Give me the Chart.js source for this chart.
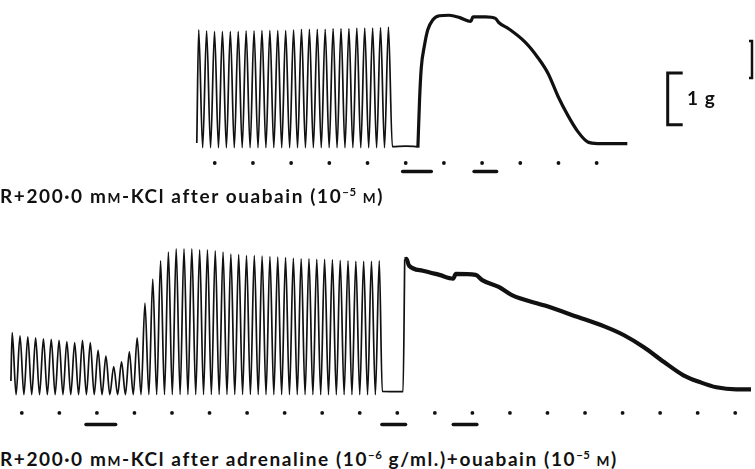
<!DOCTYPE html>
<html>
<head>
<meta charset="utf-8">
<script src="https://cdn.jsdelivr.net/npm/chart.js@4.4.1/dist/chart.umd.min.js"></script>
<style>
  html, body { margin: 0; padding: 0; background: #fff; }
  body { width: 755px; height: 469px; position: relative; overflow: hidden;
         font-family: Lato, "Open Sans", sans-serif; color: #111; }
  canvas { position: absolute; left: 0; }
  #topChart { top: 0; }
  #bottomChart { top: 220px; }
  .caption { position: absolute; left: 0; font-size: 19px; line-height: 19px; letter-spacing: 1.6px;
             font-weight: bold; white-space: nowrap; }
  .sc { font-size: 0.72em; }
  sup { font-size: 0.6em; line-height: 0; vertical-align: 0.65em; letter-spacing: 0.5px; }
  #gLabel { position: absolute; left: 687px; top: 88px; font-size: 19px; line-height: 19px;
            letter-spacing: 1px; font-weight: bold; }
</style>
</head>
<body>
<canvas id="topChart" width="755" height="190"></canvas>
<canvas id="bottomChart" width="755" height="220"></canvas>
<div class="caption" style="top:186px">R+200·0 m<span class="sc">M</span>-KCl after ouabain (10<sup>−5</sup> <span class="sc">M</span>)</div>
<div class="caption" style="top:449px">R+200·0 m<span class="sc">M</span>-KCl after adrenaline (10<sup>−6</sup> g/ml.)+ouabain (10<sup>−5</sup> <span class="sc">M</span>)</div>
<div id="gLabel">1 g</div>

<script>
// time in minutes (one dot = one mark on the time trace), force in g above resting level

// --- top record: after ouabain ---
const topBeatStart = -0.42;
const topBeatPeriod = 0.207;
const topPeaks = [2.28, 2.26, 2.25, 2.25, 2.25, 2.25, 2.26, 2.26, 2.27, 2.27, 2.27, 2.27, 2.28,
                  2.29, 2.29, 2.29, 2.29, 2.30, 2.30, 2.30, 2.31, 2.31, 2.31, 2.32, 2.33];
const topPause = [[-0.47, 0.09], [4.65, 0.02], [5.0, 0.03], [5.31, 0.02]];
const topKCl = [[5.319, 0], [5.363, 0.93], [5.407, 1.54], [5.492, 1.98], [5.578, 2.28], [5.707, 2.47],
                [5.881, 2.55], [6.14, 2.56], [6.399, 2.52], [6.702, 2.44], [6.762, 2.53], [7.091, 2.53],
                [7.35, 2.50], [7.435, 2.42], [7.694, 2.30], [8.127, 2.04], [8.472, 1.73], [8.731, 1.43],
                [8.99, 0.99], [9.249, 0.62], [9.508, 0.31], [9.767, 0.11], [10.026, 0.08], [10.803, 0.08]];
const topMarks = [0, 1, 2, 3, 4, 5, 6, 7, 8, 9, 10];
const topBars = [[4.92, 5.67], [6.79, 7.38]];

// --- bottom record: after adrenaline + ouabain ---
const bottomBeatStart = -0.256;
const bottomBeatPeriod = 0.208;
const bottomPeaks = [1.19, 1.13, 1.11, 1.09, 1.07, 1.06, 1.04, 1.02, 1.00, 1.04, 1.00, 0.85,
                     0.74, 0.54, 0.63, 0.82, 1.09, 1.76, 2.22, 2.57, 2.74, 2.80, 2.80, 2.80,
                     2.78, 2.78, 2.76, 2.74, 2.70, 2.69, 2.67, 2.67, 2.66, 2.65, 2.64, 2.63,
                     2.62, 2.61, 2.61, 2.60, 2.60, 2.59, 2.58, 2.57, 2.56, 2.56, 2.56, 2.57];
const bottomPause = [[-0.29, 0.26], [9.6, 0.06], [10.153, 0.056], [10.198, 2.6]];
const bottomKCl = [[10.198, 2.6], [10.243, 2.61], [10.311, 2.48], [10.68, 2.38], [11.12, 2.30], [11.489, 2.23],
                   [11.56, 2.32], [12.087, 2.30], [12.261, 2.20], [12.701, 2.07], [13.052, 1.91], [13.932, 1.71],
                   [14.809, 1.49], [15.513, 1.31], [16.04, 1.14], [16.567, 0.91], [17.094, 0.63], [17.621, 0.37],
                   [18.058, 0.24], [18.498, 0.14], [19.025, 0.10], [19.42, 0.10]];
const bottomMarks = [0, 1, 2, 3, 4, 5, 6, 7, 8, 9, 10, 11, 12, 13, 14, 15, 16, 17, 18, 19];
const bottomBars = [[1.71, 2.50], [9.59, 10.22], [11.49, 12.12]];

const ink = '#111';

// alternate trough / peak for each twitch
function twitchTrace(start, period, peaks, pause) {
  const pts = [{ x: pause[0][0], y: pause[0][1] }];
  peaks.forEach((h, i) => {
    const tp = start + i * period;
    pts.push({ x: tp, y: h });
    if (i < peaks.length - 1) pts.push({ x: tp + period / 2, y: 0 });
  });
  pause.slice(1).forEach(p => pts.push({ x: p[0], y: p[1] }));
  return pts;
}

function toPoints(arr) {
  return arr.map(p => ({ x: p[0], y: p[1] }));
}

function buildDatasets(start, period, peaks, pause, kcl, kclWidth, marks, markY, bars, barY) {
  const sets = [
    { data: twitchTrace(start, period, peaks, pause), borderColor: ink, borderWidth: 1.7,
      cubicInterpolationMode: 'monotone', showLine: true, pointRadius: 0 },
    { data: toPoints(kcl), borderColor: ink, borderWidth: kclWidth,
      cubicInterpolationMode: 'monotone', showLine: true, pointRadius: 0 },
    { data: marks.map(t => ({ x: t, y: markY })), showLine: false, pointRadius: 1.9,
      pointBackgroundColor: ink, pointBorderWidth: 0 }
  ];
  bars.forEach(b => {
    sets.push({ data: [{ x: b[0], y: barY }, { x: b[1], y: barY }], borderColor: ink,
      borderWidth: 3.5, borderCapStyle: 'round', showLine: true, pointRadius: 0 });
  });
  return sets;
}

// 1 g calibration bracket, drawn with the top record's scales
const scaleBarT = 11.86;
const scaleBarFrom = 0.444;
const scaleBar = {
  id: 'scaleBar',
  afterDatasetsDraw(chart) {
    const { ctx, scales: { x, y } } = chart;
    const x0 = x.getPixelForValue(scaleBarT);
    const yTop = y.getPixelForValue(scaleBarFrom + 1);
    const yBot = y.getPixelForValue(scaleBarFrom);
    ctx.save();
    ctx.strokeStyle = ink;
    ctx.lineWidth = 3;
    ctx.beginPath();
    ctx.moveTo(x0 + 15, yTop);
    ctx.lineTo(x0, yTop);
    ctx.lineTo(x0, yBot);
    ctx.lineTo(x0 + 15, yBot);
    ctx.stroke();
    // piece of a neighbouring bracket at the right edge
    const xr = chart.width - 3;
    ctx.lineWidth = 2.5;
    ctx.beginPath();
    ctx.moveTo(xr - 3, 41);
    ctx.lineTo(xr, 41);
    ctx.lineTo(xr, 78);
    ctx.lineTo(xr - 3, 78);
    ctx.stroke();
    ctx.restore();
  }
};

function makeChart(id, datasets, xRange, yRange, plugins) {
  return new Chart(document.getElementById(id), {
    type: 'scatter',
    data: { datasets },
    options: {
      responsive: false,
      animation: false,
      events: [],
      layout: { padding: 0 },
      plugins: { legend: { display: false }, tooltip: { enabled: false } },
      scales: {
        x: { type: 'linear', display: false, min: xRange[0], max: xRange[1] },
        y: { type: 'linear', display: false, min: yRange[0], max: yRange[1] }
      }
    },
    plugins: plugins || []
  });
}

makeChart('topChart',
  buildDatasets(topBeatStart, topBeatPeriod, topPeaks, topPause, topKCl, 3.2, topMarks, -0.296, topBars, -0.463),
  [-5.518, 14.041], [-0.741, 2.778], [scaleBar]);

makeChart('bottomChart',
  buildDatasets(bottomBeatStart, bottomBeatPeriod, bottomPeaks, bottomPause, bottomKCl, 4.2, bottomMarks, -0.352, bottomBars, -0.574),
  [-0.474, 19.42], [-0.796, 3.278]);
</script>
</body>
</html>
